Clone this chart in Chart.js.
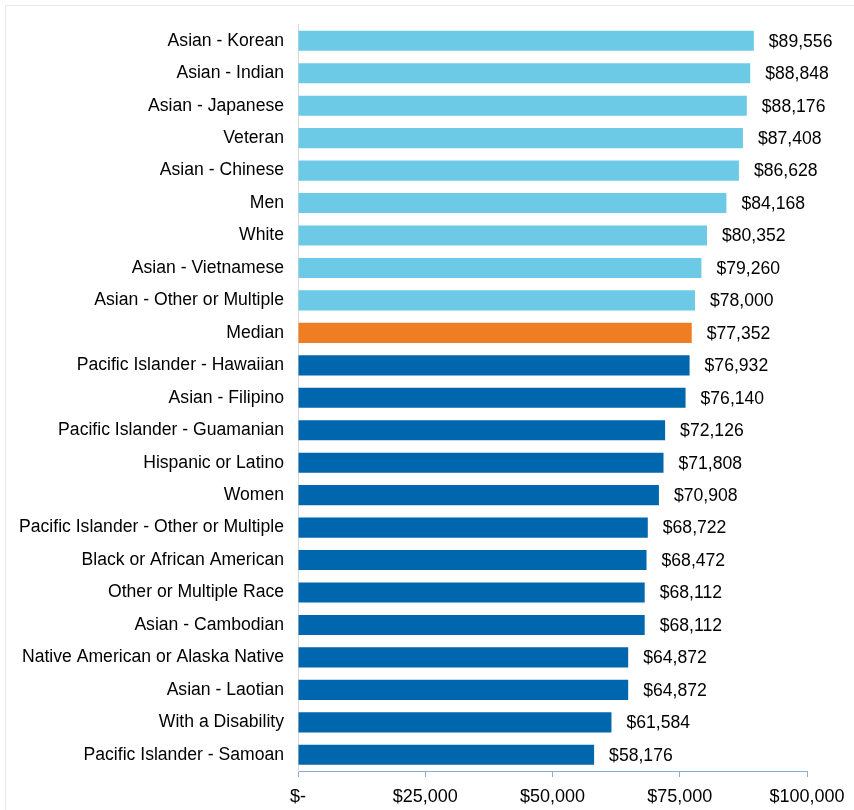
<!DOCTYPE html>
<html>
<head>
<meta charset="utf-8">
<script src="https://cdn.jsdelivr.net/npm/chart.js@4"></script>
<style>
    body { margin: 0; background: #fff; }
    #wrap { position: relative; width: 854px; height: 810px; }
    #frame { position: absolute; left: 5px; top: 5px; width: 849px; height: 805px;
             border-top: 1px solid #e8e8e8; border-left: 1px solid #e8e8e8; box-sizing: border-box; }
    canvas { position: absolute; left: 0; top: 0; }
</style>
</head>
<body>
<div id="wrap">
    <div id="frame"></div>
    <canvas id="incomeChart" width="854" height="810"></canvas>
</div>
<script>
const groups = [
    "Asian - Korean",
    "Asian - Indian",
    "Asian - Japanese",
    "Veteran",
    "Asian - Chinese",
    "Men",
    "White",
    "Asian - Vietnamese",
    "Asian - Other or Multiple",
    "Median",
    "Pacific Islander - Hawaiian",
    "Asian - Filipino",
    "Pacific Islander - Guamanian",
    "Hispanic or Latino",
    "Women",
    "Pacific Islander - Other or Multiple",
    "Black or African American",
    "Other or Multiple Race",
    "Asian - Cambodian",
    "Native American or Alaska Native",
    "Asian - Laotian",
    "With a Disability",
    "Pacific Islander - Samoan",
];
const income = [
    89556, 88848, 88176, 87408, 86628, 84168, 80352, 79260, 78000,
    77352,
    76932, 76140, 72126, 71808, 70908, 68722, 68472, 68112, 68112,
    64872, 64872, 61584, 58176,
];
const axisTicks = [0, 25000, 50000, 75000, 100000];

const aboveColor = "#6CCAE6";
const medianColor = "#EE7D24";
const belowColor = "#0066AD";

const medianIndex = groups.indexOf("Median");
const barColors = income.map((v, i) =>
    i < medianIndex ? aboveColor : i === medianIndex ? medianColor : belowColor
);

function money(v) {
    if (v === 0) return "$-";
    return "$" + v.toLocaleString("en-US");
}

const fontFamily = "'Liberation Sans', Arial, sans-serif";

// value labels to the right of each bar
const valueLabels = {
    id: "valueLabels",
    afterDatasetsDraw(chart) {
        const ctx = chart.ctx;
        const meta = chart.getDatasetMeta(0);
        ctx.save();
        ctx.font = "17.6px " + fontFamily;
        ctx.fillStyle = "#000";
        ctx.textAlign = "left";
        ctx.textBaseline = "middle";
        meta.data.forEach((bar, i) => {
            ctx.fillText(money(income[i]), bar.x + 15, bar.y + 1);
        });
        ctx.restore();
    },
};

Chart.defaults.font.family = fontFamily;
Chart.defaults.font.size = 17.6;
Chart.defaults.color = "#000";

new Chart(document.getElementById("incomeChart"), {
    type: "bar",
    data: {
        labels: groups,
        datasets: [
            {
                data: income,
                backgroundColor: barColors,
                borderWidth: 0,
                barPercentage: 0.62,
                categoryPercentage: 1,
            },
        ],
    },
    options: {
        indexAxis: "y",
        responsive: false,
        animation: false,
        layout: { padding: { top: 23, right: 47, bottom: 0, left: 0 } },
        plugins: {
            legend: { display: false },
            tooltip: { enabled: false },
        },
        scales: {
            x: {
                min: 0,
                max: 100000,
                afterBuildTicks(scale) {
                    scale.ticks = axisTicks.map((v) => ({ value: v }));
                },
                afterFit(scale) {
                    scale.height = 39;
                },
                grid: {
                    drawOnChartArea: false,
                    drawTicks: true,
                    tickLength: 6,
                    color: "#8EA9DB",
                },
                border: { color: "#8EA9DB", width: 1 },
                ticks: {
                    padding: 9,
                    maxRotation: 0,
                    font: { size: 18 },
                    callback: (v) => money(v),
                },
            },
            y: {
                afterFit(scale) {
                    scale.width = 298;
                },
                grid: { drawOnChartArea: false, drawTicks: false },
                border: { color: "#d9d9d9", width: 1 },
                ticks: { padding: 14, autoSkip: false },
            },
        },
    },
    plugins: [valueLabels],
});
</script>
</body>
</html>
